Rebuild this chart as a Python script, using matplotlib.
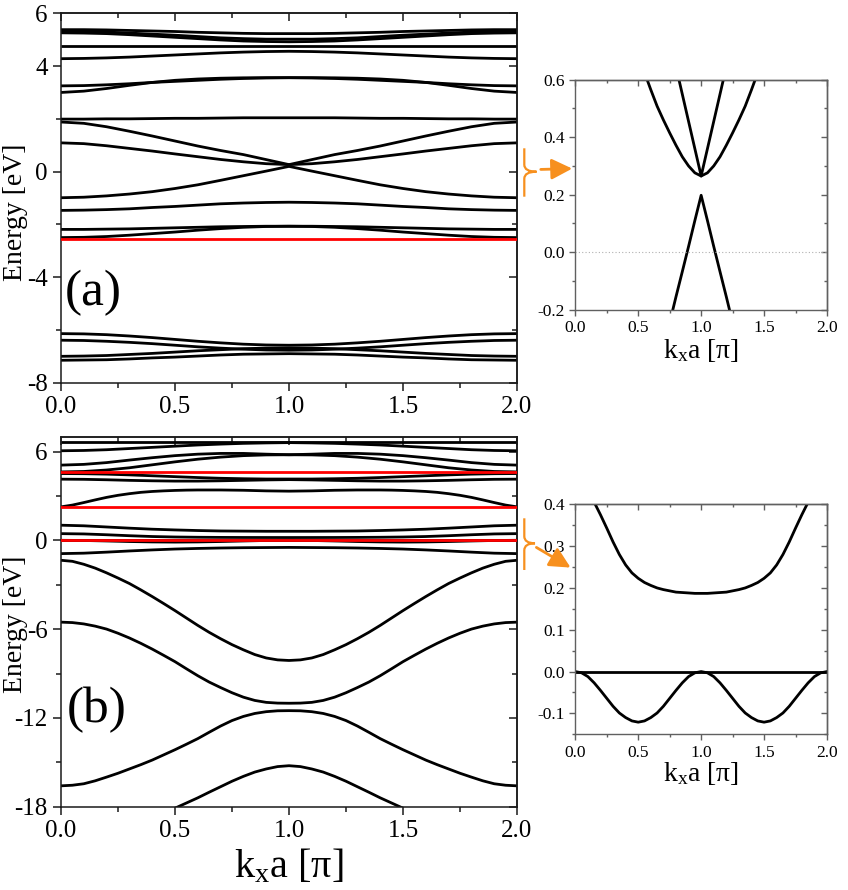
import numpy as np
import matplotlib
matplotlib.use('Agg')
import matplotlib.pyplot as plt
from matplotlib.ticker import MultipleLocator, FixedLocator, FormatStrFormatter
from matplotlib.path import Path
from matplotlib.patches import PathPatch, FancyArrowPatch

plt.rcParams['font.family'] = ['Liberation Serif', 'DejaVu Serif']
plt.rcParams['mathtext.fontset'] = 'custom'
plt.rcParams['mathtext.rm'] = 'Liberation Serif'
plt.rcParams['mathtext.it'] = 'Liberation Serif:italic'
plt.rcParams['axes.unicode_minus'] = False

# ---------------- data ----------------
k_main = np.linspace(0.0, 2.0, 21)      # k_x a in units of pi
k_fine = np.linspace(0.0, 2.0, 41)
k_ins_a = np.linspace(0.5, 1.5, 21)
k_ins_b = np.linspace(0.0, 2.0, 41)

# panel (a) bands [eV] (on k_main)
a01 = [-7.15, -7.14, -7.13, -7.10, -7.06, -7.03, -6.99, -6.95, -6.92, -6.91, -6.90, -6.91, -6.92, -6.95, -6.99, -7.03, -7.06, -7.10, -7.13, -7.14, -7.15]
a02 = [-7.00, -6.99, -6.97, -6.93, -6.89, -6.84, -6.79, -6.75, -6.71, -6.69, -6.68, -6.69, -6.71, -6.75, -6.79, -6.84, -6.89, -6.93, -6.97, -6.99, -7.00]
a03 = [-6.39, -6.40, -6.43, -6.47, -6.52, -6.58, -6.64, -6.69, -6.73, -6.76, -6.77, -6.76, -6.73, -6.69, -6.64, -6.58, -6.52, -6.47, -6.43, -6.40, -6.39]
a04 = [-6.14, -6.15, -6.18, -6.23, -6.29, -6.36, -6.43, -6.49, -6.54, -6.57, -6.58, -6.57, -6.54, -6.49, -6.43, -6.36, -6.29, -6.23, -6.18, -6.15, -6.14]
a05 = [-2.50, -2.49, -2.46, -2.41, -2.35, -2.29, -2.22, -2.16, -2.11, -2.08, -2.07, -2.08, -2.11, -2.16, -2.22, -2.29, -2.35, -2.41, -2.46, -2.49, -2.50]
a06 = [-2.19, -2.19, -2.18, -2.17, -2.15, -2.13, -2.11, -2.09, -2.08, -2.07, -2.07, -2.07, -2.08, -2.09, -2.11, -2.13, -2.15, -2.17, -2.18, -2.19, -2.19]
a07 = [-1.47, -1.46, -1.44, -1.41, -1.36, -1.32, -1.27, -1.22, -1.19, -1.17, -1.16, -1.17, -1.19, -1.22, -1.27, -1.32, -1.36, -1.41, -1.44, -1.46, -1.47]
a08 = [-0.99, -0.97, -0.92, -0.85, -0.76, -0.64, -0.50, -0.33, -0.155, 0.02, 0.198, 0.02, -0.155, -0.33, -0.50, -0.64, -0.76, -0.85, -0.92, -0.97, -0.99]
a09 = [1.09, 1.06, 0.98, 0.88, 0.78, 0.67, 0.565, 0.46, 0.372, 0.30, 0.265, 0.30, 0.372, 0.46, 0.565, 0.67, 0.78, 0.88, 0.98, 1.06, 1.09]
a10 = [1.88, 1.83, 1.70, 1.53, 1.35, 1.16, 0.97, 0.80, 0.645, 0.455, 0.265, 0.455, 0.645, 0.80, 0.97, 1.16, 1.35, 1.53, 1.70, 1.83, 1.88]
a11 = [1.99, 1.99, 2.00, 2.00, 2.01, 2.02, 2.02, 2.03, 2.04, 2.04, 2.04, 2.04, 2.04, 2.03, 2.02, 2.02, 2.01, 2.00, 2.00, 1.99, 1.99]
a12 = [3.00, 3.05, 3.15, 3.27, 3.38, 3.46, 3.51, 3.54, 3.555, 3.56, 3.56, 3.56, 3.555, 3.54, 3.51, 3.46, 3.38, 3.27, 3.15, 3.05, 3.00]
a13 = [3.25, 3.26, 3.29, 3.33, 3.38, 3.42, 3.46, 3.50, 3.53, 3.55, 3.56, 3.55, 3.53, 3.50, 3.46, 3.42, 3.38, 3.33, 3.29, 3.26, 3.25]
a14 = [4.28, 4.29, 4.31, 4.34, 4.38, 4.42, 4.46, 4.50, 4.53, 4.55, 4.56, 4.55, 4.53, 4.50, 4.46, 4.42, 4.38, 4.34, 4.31, 4.29, 4.28]
a15 = [4.76, 4.76, 4.76, 4.76, 4.76, 4.76, 4.76, 4.76, 4.76, 4.76, 4.76, 4.76, 4.76, 4.76, 4.76, 4.76, 4.76, 4.76, 4.76, 4.76, 4.76]
a16 = [5.26, 5.25, 5.23, 5.19, 5.14, 5.09, 5.04, 4.99, 4.95, 4.93, 4.92, 4.93, 4.95, 4.99, 5.04, 5.09, 5.14, 5.19, 5.23, 5.25, 5.26]
a17 = [5.32, 5.31, 5.29, 5.25, 5.21, 5.17, 5.12, 5.07, 5.04, 5.02, 5.02, 5.02, 5.04, 5.07, 5.12, 5.17, 5.21, 5.25, 5.29, 5.31, 5.32]
a18 = [5.38, 5.38, 5.37, 5.35, 5.33, 5.31, 5.28, 5.26, 5.24, 5.23, 5.23, 5.23, 5.24, 5.26, 5.28, 5.31, 5.33, 5.35, 5.37, 5.38, 5.38]
a_flat_red = [-2.565]

# panel (b) bands [eV] (on k_main)
b01 = [6.66] * 21
b02 = [6.05, 6.07, 6.12, 6.20, 6.28, 6.36, 6.44, 6.50, 6.55, 6.58, 6.60, 6.58, 6.55, 6.50, 6.44, 6.36, 6.28, 6.20, 6.12, 6.07, 6.05]
b03 = [5.08, 5.13, 5.25, 5.42, 5.58, 5.72, 5.82, 5.87, 5.87, 5.82, 5.78, 5.82, 5.87, 5.87, 5.82, 5.72, 5.58, 5.42, 5.25, 5.13, 5.08]
b04 = [4.62, 4.65, 4.75, 4.90, 5.10, 5.30, 5.48, 5.62, 5.72, 5.77, 5.78, 5.77, 5.72, 5.62, 5.48, 5.30, 5.10, 4.90, 4.75, 4.65, 4.62]
b05 = [4.51, 4.50, 4.47, 4.42, 4.36, 4.30, 4.24, 4.19, 4.16, 4.14, 4.14, 4.14, 4.16, 4.19, 4.24, 4.30, 4.36, 4.42, 4.47, 4.50, 4.51]
b06 = [4.13, 4.12, 4.09, 4.05, 4.02, 4.00, 4.00, 4.02, 4.05, 4.08, 4.10, 4.08, 4.05, 4.02, 4.00, 4.00, 4.02, 4.05, 4.09, 4.12, 4.13]
b08 = [1.02, 0.98, 0.90, 0.82, 0.75, 0.70, 0.66, 0.63, 0.62, 0.61, 0.61, 0.61, 0.62, 0.63, 0.66, 0.70, 0.75, 0.82, 0.90, 0.98, 1.02]
b09 = [0.45, 0.43, 0.375, 0.31, 0.255, 0.223, 0.206, 0.196, 0.19, 0.188, 0.187, 0.188, 0.19, 0.196, 0.206, 0.223, 0.255, 0.31, 0.375, 0.43, 0.45]
b10 = [0.0] * 21
b11 = [0.0, -0.012, -0.045, -0.083, -0.11, -0.121, -0.11, -0.083, -0.045, -0.012, 0.0, -0.012, -0.045, -0.083, -0.11, -0.121, -0.11, -0.083, -0.045, -0.012, 0.0]
b12 = [-0.90, -0.87, -0.80, -0.72, -0.65, -0.59, -0.55, -0.52, -0.50, -0.49, -0.48, -0.49, -0.50, -0.52, -0.55, -0.59, -0.65, -0.72, -0.80, -0.87, -0.90]
# strongly dispersive bands of panel (b) (on k_fine)
b07 = [2.26, 2.38, 2.55, 2.73, 2.90, 3.04, 3.15, 3.24, 3.30, 3.34, 3.37, 3.39, 3.40, 3.40, 3.40, 3.39, 3.38, 3.36, 3.34, 3.33, 3.32,
       3.33, 3.34, 3.36, 3.38, 3.39, 3.40, 3.40, 3.40, 3.39, 3.37, 3.34, 3.30, 3.24, 3.15, 3.04, 2.90, 2.73, 2.55, 2.38, 2.26]
b13 = [-1.35, -1.42, -1.62, -1.88, -2.20, -2.55, -2.92, -3.35, -3.80, -4.27, -4.75, -5.25, -5.75, -6.22, -6.65, -7.05, -7.40, -7.72, -7.95, -8.08, -8.12,
       -8.08, -7.95, -7.72, -7.40, -7.05, -6.65, -6.22, -5.75, -5.25, -4.75, -4.27, -3.80, -3.35, -2.92, -2.55, -2.20, -1.88, -1.62, -1.42, -1.35]
b14 = [-5.53, -5.56, -5.65, -5.80, -6.00, -6.28, -6.60, -6.96, -7.35, -7.77, -8.20, -8.68, -9.15, -9.58, -9.95, -10.30, -10.60, -10.82, -10.95, -11.00, -11.01,
       -11.00, -10.95, -10.82, -10.60, -10.30, -9.95, -9.58, -9.15, -8.68, -8.20, -7.77, -7.35, -6.96, -6.60, -6.28, -6.00, -5.80, -5.65, -5.56, -5.53]
b15 = [-16.59, -16.55, -16.45, -16.25, -16.00, -15.74, -15.45, -15.16, -14.85, -14.50, -14.15, -13.78, -13.40, -12.97, -12.55, -12.18, -11.90, -11.70, -11.58, -11.52, -11.51,
       -11.52, -11.58, -11.70, -11.90, -12.18, -12.55, -12.97, -13.40, -13.78, -14.15, -14.50, -14.85, -15.16, -15.45, -15.74, -16.00, -16.25, -16.45, -16.55, -16.59]
b16 = [-20.2, -20.18, -20.1, -19.97, -19.8, -19.57, -19.3, -19.0, -18.7, -18.4, -18.1, -17.75, -17.4, -17.02, -16.65, -16.28, -15.95, -15.66, -15.45, -15.29, -15.23,
       -15.29, -15.45, -15.66, -15.95, -16.28, -16.65, -17.02, -17.4, -17.75, -18.1, -18.4, -18.7, -19.0, -19.3, -19.57, -19.8, -19.97, -20.1, -20.18, -20.2]
b_flat_red = [4.62, 2.26, 0.0]

# inset (a): zoom near k = pi (on k_ins_a)
ia_parab = [0.69, 0.625, 0.565, 0.508, 0.46, 0.415, 0.372, 0.332, 0.30, 0.276, 0.265, 0.276, 0.30, 0.332, 0.372, 0.415, 0.46, 0.508, 0.565, 0.625, 0.69]
ia_vee = [1.16, 1.06, 0.97, 0.88, 0.80, 0.72, 0.645, 0.55, 0.455, 0.36, 0.265, 0.36, 0.455, 0.55, 0.645, 0.72, 0.80, 0.88, 0.97, 1.06, 1.16]
ia_lam = [-0.64, -0.57, -0.50, -0.42, -0.33, -0.245, -0.155, -0.068, 0.02, 0.11, 0.198, 0.11, 0.02, -0.068, -0.155, -0.245, -0.33, -0.42, -0.50, -0.57, -0.64]

# inset (b): near 0 eV (on k_ins_b)
ib_top = [0.45, 0.445, 0.43, 0.405, 0.375, 0.343, 0.31, 0.28, 0.255, 0.236, 0.223, 0.213, 0.206, 0.20, 0.196, 0.193, 0.19, 0.189, 0.188, 0.187, 0.187,
          0.187, 0.188, 0.189, 0.19, 0.193, 0.196, 0.20, 0.206, 0.213, 0.223, 0.236, 0.255, 0.28, 0.31, 0.343, 0.375, 0.405, 0.43, 0.445, 0.45]
ib_flat = [0.0] * 41
ib_osc = [0.0, -0.003, -0.012, -0.027, -0.045, -0.064, -0.083, -0.099, -0.11, -0.118, -0.121, -0.118, -0.11, -0.099, -0.083, -0.064, -0.045, -0.027, -0.012, -0.003, 0.0,
          -0.003, -0.012, -0.027, -0.045, -0.064, -0.083, -0.099, -0.11, -0.118, -0.121, -0.118, -0.11, -0.099, -0.083, -0.064, -0.045, -0.027, -0.012, -0.003, 0.0]

bands_a = [a01, a02, a03, a04, a05, a06, a07, a08, a09, a10, a11, a12, a13, a14, a15, a16, a17, a18]
bands_b = [b01, b02, b03, b04, b05, b06, b08, b09, b10, b11, b12]
bands_b_fine = [b07, b13, b14, b15, b16]

# ---------------- figure ----------------
W, H = 848, 890
fig = plt.figure(figsize=(W / 100, H / 100), dpi=100)


def rect(x0, y0, x1, y1):
    return [x0 / W, 1 - y1 / H, (x1 - x0) / W, (y1 - y0) / H]


def px(x, y):
    return (x / W, 1 - y / H)


def style(ax, ymaj, ymin, yfmt, color, lab, L, lw):
    ax.set_xlim(0, 2)
    ax.xaxis.set_major_locator(MultipleLocator(0.5))
    ax.xaxis.set_minor_locator(MultipleLocator(0.25))
    ax.xaxis.set_major_formatter(FormatStrFormatter('%.1f'))
    ax.yaxis.set_major_locator(FixedLocator(ymaj))
    ax.yaxis.set_minor_locator(FixedLocator(ymin))
    ax.yaxis.set_major_formatter(FormatStrFormatter(yfmt))
    ax.tick_params(which='both', direction='out', colors=color, labelcolor='black',
                   labelsize=lab, width=lw)
    ax.tick_params(which='major', length=L)
    ax.tick_params(which='minor', length=L * 0.55)
    for s in ax.spines.values():
        s.set_color(color)
        s.set_linewidth(lw)
    sx = ax.secondary_xaxis('top')
    sx.xaxis.set_major_locator(MultipleLocator(0.5))
    sx.xaxis.set_minor_locator(MultipleLocator(0.25))
    sx.tick_params(which='both', direction='in', colors=color, labeltop=False, width=lw)
    sx.tick_params(which='major', length=L)
    sx.tick_params(which='minor', length=L * 0.55)
    sx.spines['top'].set_color(color)
    sx.spines['top'].set_linewidth(lw)
    sy = ax.secondary_yaxis('right')
    sy.yaxis.set_major_locator(FixedLocator(ymaj))
    sy.yaxis.set_minor_locator(FixedLocator(ymin))
    sy.tick_params(which='both', direction='in', colors=color, labelright=False, width=lw)
    sy.tick_params(which='major', length=L)
    sy.tick_params(which='minor', length=L * 0.55)
    sy.spines['right'].set_color(color)
    sy.spines['right'].set_linewidth(lw)


LW = 2.0
main_col = '#1a1a1a'
ins_col = '#606060'

# ---- panel (a)
axa = fig.add_axes(rect(61, 13.3, 517, 382.7))
for b in bands_a:
    axa.plot(k_main, b, color='black', lw=LW, solid_capstyle='butt')
for e in a_flat_red:
    axa.axhline(e, color='#ff0000', lw=LW, zorder=5)
axa.set_ylim(-8, 6)
style(axa, [-8, -4, 0, 4, 6], [-6, -2, 2], '%g', main_col, 18, 6, 1.1)
axa.text(0.008, 0.243, '(a)', transform=axa.transAxes, fontsize=37, ha='left', va='center')

# ---- panel (b)
axb = fig.add_axes(rect(61, 436.7, 517, 806.7))
for b in bands_b:
    axb.plot(k_main, b, color='black', lw=LW, solid_capstyle='butt')
for b in bands_b_fine:
    axb.plot(k_fine, b, color='black', lw=LW, solid_capstyle='butt')
for e in b_flat_red:
    axb.axhline(e, color='#ff0000', lw=LW, zorder=5)
axb.set_ylim(-18, 7)
style(axb, [-18, -12, -6, 0, 6], [-15, -9, -3, 3], '%g', main_col, 18, 6, 1.1)
axb.text(0.012, 0.262, '(b)', transform=axb.transAxes, fontsize=37, ha='left', va='center')

# ---- inset (a)
ia = fig.add_axes(rect(575.3, 79.7, 827, 309.7))
for b in [ia_parab, ia_vee, ia_lam]:
    ia.plot(k_ins_a, b, color='black', lw=LW)
ia.axhline(0.0, color='#b0b0b0', lw=0.8, ls=(0, (1, 2)))
ia.set_ylim(-0.2, 0.6)
style(ia, [-0.2, 0.0, 0.2, 0.4, 0.6], [-0.1, 0.1, 0.3, 0.5], '%.1f', ins_col, 12.5, 4, 1.0)

# ---- inset (b)
ib = fig.add_axes(rect(575.3, 504.3, 827, 734.3))
for b in [ib_top, ib_flat, ib_osc]:
    ib.plot(k_ins_b, b, color='black', lw=LW)
ib.set_ylim(-0.15, 0.4)
style(ib, [-0.1, 0.0, 0.1, 0.2, 0.3, 0.4], [-0.15, -0.05, 0.05, 0.15, 0.25, 0.35], '%.1f', ins_col, 12.5, 4, 1.0)

# ---- axis labels
xl = r'k$_\mathregular{x}$a [π]'
fig.text(*px(15.5, 212), 'Energy [eV]', rotation=90, fontsize=20, ha='center', va='center')
fig.text(*px(15.5, 624), 'Energy [eV]', rotation=90, fontsize=20, ha='center', va='center')
fig.text(*px(289, 877), xl, fontsize=29, ha='center', va='baseline')
fig.text(*px(701, 357.5), xl, fontsize=20, ha='center', va='baseline')
fig.text(*px(701, 781), xl, fontsize=20, ha='center', va='baseline')

# ---- orange braces and arrows
orange = '#f7901e'


def brace(x, y0, y1, tip_x, tip_y):
    verts = [px(x, y0), px(x, tip_y - 7), px(x, tip_y), px(tip_x, tip_y),
             px(x, tip_y), px(x, tip_y + 7), px(x, y1)]
    codes = [Path.MOVETO, Path.LINETO, Path.CURVE3, Path.CURVE3,
             Path.CURVE3, Path.CURVE3, Path.LINETO]
    fig.patches.append(PathPatch(Path(verts, codes), transform=fig.transFigure,
                                 fill=False, edgecolor=orange, lw=1.6, figure=fig))


brace(524.3, 148.3, 196.7, 536.5, 171.7)
brace(524.3, 518.3, 570.0, 535.0, 543.3)
for (x0, y0), (x1, y1) in [((538, 169.5), (575, 168.5)), ((534, 546), (573, 569))]:
    arr = FancyArrowPatch(px(x0, y0), px(x1, y1), transform=fig.transFigure,
                          arrowstyle='-|>,head_length=0.9,head_width=0.45',
                          mutation_scale=14, color=orange, lw=2.0, figure=fig)
    fig.patches.append(arr)

fig.savefig('out.png', dpi=100)
